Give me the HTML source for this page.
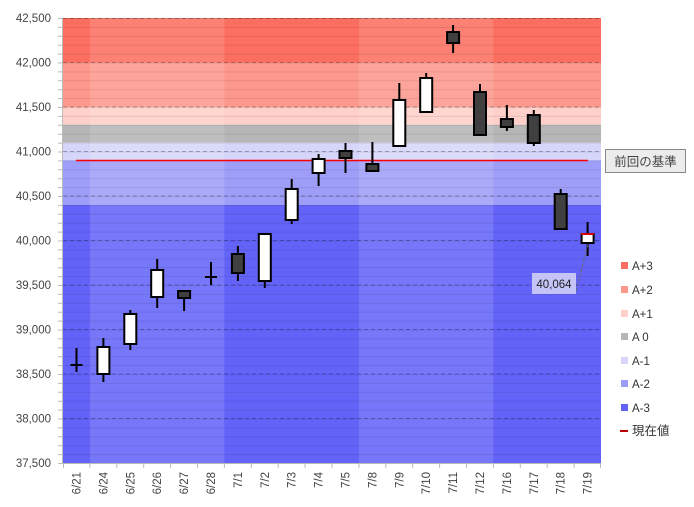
<!DOCTYPE html>
<html><head><meta charset="utf-8"><style>
html,body{margin:0;padding:0;background:#fff;}
svg{display:block;font-family:"Liberation Sans","Noto Sans CJK JP",sans-serif;}
</style></head><body>
<svg width="694" height="507" viewBox="0 0 694 507" xmlns="http://www.w3.org/2000/svg">
<defs>
<pattern id="g" x="0" y="18" width="700" height="8.9" patternUnits="userSpaceOnUse">
<line x1="0" y1="0.5" x2="700" y2="0.5" stroke="rgba(0,0,0,0.09)" stroke-width="1"/>
</pattern>
</defs>
<!-- bands -->
<rect x="63" y="18" width="538" height="44.5" fill="#fc6f60"/>
<rect x="63" y="62.5" width="538" height="44.5" fill="#fd988d"/>
<rect x="63" y="107" width="538" height="17.8" fill="#ffcfca"/>
<rect x="63" y="124.8" width="538" height="17.8" fill="#b6b6b6"/>
<rect x="63" y="142.6" width="538" height="17.8" fill="#d6d6fa"/>
<rect x="63" y="160.4" width="538" height="44.5" fill="#9e9ef8"/>
<rect x="63" y="204.9" width="538" height="258.1" fill="#6363f8"/>
<!-- lighter columns -->
<rect x="89.9" y="18" width="134.5" height="445" fill="rgba(255,255,255,0.13)"/>
<rect x="358.9" y="18" width="134.5" height="445" fill="rgba(255,255,255,0.13)"/>
<!-- grid -->
<rect x="63" y="18" width="538" height="445" fill="url(#g)"/>
<g stroke="rgba(0,0,0,0.28)" stroke-dasharray="4,3" stroke-width="1">
<line x1="63" y1="18.5" x2="601" y2="18.5"/><line x1="63" y1="62.5" x2="601" y2="62.5"/>
<line x1="63" y1="107" x2="601" y2="107"/><line x1="63" y1="151.5" x2="601" y2="151.5"/>
<line x1="63" y1="196" x2="601" y2="196"/><line x1="63" y1="240.5" x2="601" y2="240.5"/>
<line x1="63" y1="285" x2="601" y2="285"/><line x1="63" y1="329.5" x2="601" y2="329.5"/>
<line x1="63" y1="374" x2="601" y2="374"/><line x1="63" y1="418.5" x2="601" y2="418.5"/>
</g>
<!-- axes -->
<g stroke="#bbb" stroke-width="1">
<line x1="62.5" y1="18" x2="62.5" y2="463"/>
<line x1="63" y1="463.5" x2="601" y2="463.5"/>
</g>
<g stroke="#bbb">
<path d="M58 18.5H63M58 27.4H63M58 36.3H63M58 45.2H63M58 54.1H63M58 63H63M58 71.9H63M58 80.8H63M58 89.7H63M58 98.6H63M58 107.5H63M58 116.4H63M58 125.3H63M58 134.2H63M58 143.1H63M58 152H63M58 160.9H63M58 169.8H63M58 178.7H63M58 187.6H63M58 196.5H63M58 205.4H63M58 214.3H63M58 223.2H63M58 232.1H63M58 241H63M58 249.9H63M58 258.8H63M58 267.7H63M58 276.6H63M58 285.5H63M58 294.4H63M58 303.3H63M58 312.2H63M58 321.1H63M58 330H63M58 338.9H63M58 347.8H63M58 356.7H63M58 365.6H63M58 374.5H63M58 383.4H63M58 392.3H63M58 401.2H63M58 410.1H63M58 419H63M58 427.9H63M58 436.8H63M58 445.7H63M58 454.6H63M58 463.5H63"/>
<path d="M63.5 463V468M89.9 463V468M116.8 463V468M143.7 463V468M170.6 463V468M197.5 463V468M224.4 463V468M251.3 463V468M278.2 463V468M305.1 463V468M332 463V468M358.9 463V468M385.8 463V468M412.7 463V468M439.6 463V468M466.5 463V468M493.4 463V468M520.3 463V468M547.2 463V468M574.1 463V468M600.5 463V468"/>
</g>
<!-- y labels -->
<g font-size="11.5" fill="#444" text-anchor="end">
<text x="51" y="22">42,500</text><text x="51" y="66.5">42,000</text>
<text x="51" y="111">41,500</text><text x="51" y="155.5">41,000</text>
<text x="51" y="200">40,500</text><text x="51" y="244.5">40,000</text>
<text x="51" y="289">39,500</text><text x="51" y="333.5">39,000</text>
<text x="51" y="378">38,500</text><text x="51" y="422.5">38,000</text>
<text x="51" y="467">37,500</text>
</g>
<!-- x labels -->
<g font-size="11.5" fill="#444" text-anchor="end">
<text transform="translate(80.5,472) rotate(-90)">6/21</text>
<text transform="translate(107.4,472) rotate(-90)">6/24</text>
<text transform="translate(134.3,472) rotate(-90)">6/25</text>
<text transform="translate(161.2,472) rotate(-90)">6/26</text>
<text transform="translate(188.1,472) rotate(-90)">6/27</text>
<text transform="translate(215,472) rotate(-90)">6/28</text>
<text transform="translate(241.9,472) rotate(-90)">7/1</text>
<text transform="translate(268.8,472) rotate(-90)">7/2</text>
<text transform="translate(295.7,472) rotate(-90)">7/3</text>
<text transform="translate(322.6,472) rotate(-90)">7/4</text>
<text transform="translate(349.5,472) rotate(-90)">7/5</text>
<text transform="translate(376.4,472) rotate(-90)">7/8</text>
<text transform="translate(403.3,472) rotate(-90)">7/9</text>
<text transform="translate(430.2,472) rotate(-90)">7/10</text>
<text transform="translate(457.1,472) rotate(-90)">7/11</text>
<text transform="translate(484,472) rotate(-90)">7/12</text>
<text transform="translate(510.9,472) rotate(-90)">7/16</text>
<text transform="translate(537.8,472) rotate(-90)">7/17</text>
<text transform="translate(564.7,472) rotate(-90)">7/18</text>
<text transform="translate(591.6,472) rotate(-90)">7/19</text>
</g>
<!-- previous baseline -->
<line x1="76" y1="160.5" x2="588" y2="160.5" stroke="#ff0000" stroke-width="1.5"/>
<!-- wicks -->
<g stroke="#000" stroke-width="2">
<path d="M76.5 348V372M103.4 338V382M130.3 310V350M157.2 259V308M184.1 291V311M211 262V285M237.9 246V281M264.8 234V288M291.7 179V224M318.6 154V186M345.5 143V173M372.4 142V171M399.3 83V146M426.2 73V112M453.1 25V53M480 84V135M506.9 105V131M533.8 110V146M560.7 189V230M587.6 222V256"/>
<path d="M70.5 365H82.5M205 277H217"/>
</g>
<!-- bodies -->
<g stroke="#000" stroke-width="2">
<rect x="97.4" y="347" width="12" height="27" fill="#fff"/>
<rect x="124.3" y="314" width="12" height="30" fill="#fff"/>
<rect x="151.2" y="270" width="12" height="27" fill="#fff"/>
<rect x="178.1" y="291" width="12" height="7" fill="#404040"/>
<rect x="231.9" y="254" width="12" height="19" fill="#404040"/>
<rect x="258.8" y="234" width="12" height="47" fill="#fff"/>
<rect x="285.7" y="189" width="12" height="31" fill="#fff"/>
<rect x="312.6" y="159" width="12" height="14" fill="#fff"/>
<rect x="339.5" y="151" width="12" height="7" fill="#404040"/>
<rect x="366.4" y="164" width="12" height="7" fill="#404040"/>
<rect x="393.3" y="100" width="12" height="46" fill="#fff"/>
<rect x="420.2" y="78" width="12" height="34" fill="#fff"/>
<rect x="447.1" y="32" width="12" height="11" fill="#404040"/>
<rect x="474" y="92" width="12" height="43" fill="#404040"/>
<rect x="500.9" y="119" width="12" height="8" fill="#404040"/>
<rect x="527.8" y="115" width="12" height="28" fill="#404040"/>
<rect x="554.7" y="194" width="12" height="35" fill="#404040"/>
<rect x="581.6" y="234" width="12" height="9" fill="#fff"/>
</g>
<line x1="581" y1="234" x2="594" y2="234" stroke="#d00000" stroke-width="2"/>
<!-- current label -->
<line x1="576" y1="291" x2="588" y2="244" stroke="#666" stroke-dasharray="3,2" stroke-width="1"/>
<rect x="532" y="273" width="44" height="21" fill="#c4c4f8"/>
<text x="554" y="288" font-size="11.5" fill="#222" text-anchor="middle">40,064</text>
<!-- previous label -->
<rect x="605.5" y="149.5" width="80" height="23" fill="#ececec" stroke="#888"/>
<text x="645.5" y="166" font-size="12.5" fill="#444" text-anchor="middle">前回の基準</text>
<!-- legend -->
<g font-size="11.5" fill="#333">
<rect x="621" y="262" width="7" height="7" fill="#fc6f60"/><text x="632" y="270">A+3</text>
<rect x="621" y="286" width="7" height="7" fill="#fd988d"/><text x="632" y="294">A+2</text>
<rect x="621" y="310" width="7" height="7" fill="#ffcfca"/><text x="632" y="318">A+1</text>
<rect x="621" y="333" width="7" height="7" fill="#b6b6b6"/><text x="632" y="341">A 0</text>
<rect x="621" y="357" width="7" height="7" fill="#d6d6fa"/><text x="632" y="365">A-1</text>
<rect x="621" y="380" width="7" height="7" fill="#9e9ef8"/><text x="632" y="388">A-2</text>
<rect x="621" y="404" width="7" height="7" fill="#6363f8"/><text x="632" y="412">A-3</text>
<rect x="620" y="430" width="8" height="2" fill="#c00000"/><text x="632" y="435" font-size="12.5">現在値</text>
</g>
</svg>
</body></html>
